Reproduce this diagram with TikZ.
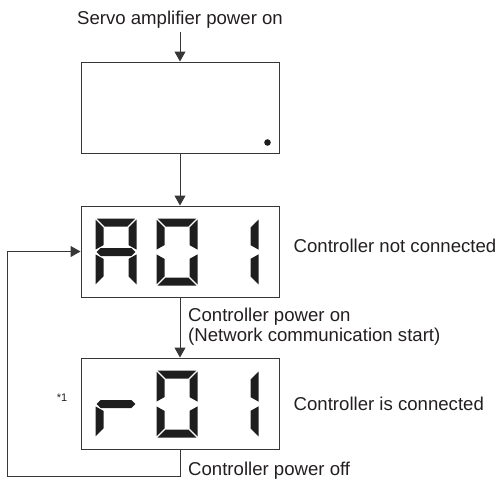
\documentclass[tikz,border=0pt]{standalone}
\usepackage{fontspec}
\setmainfont{Liberation Sans}
\usetikzlibrary{arrows.meta,positioning}
\definecolor{lineGray}{RGB}{55,55,55}
\definecolor{segBlack}{RGB}{30,30,30}
\definecolor{txtBlack}{RGB}{35,31,32}
\tikzset{
  dispbox/.style={rectangle,draw=lineGray,line width=1pt,minimum width=198pt,minimum height=91pt,inner sep=0pt},
  lbl/.style={inner sep=0pt,text=txtBlack,font=\fontsize{18.6}{19.5}\selectfont,align=left},
  notelbl/.style={inner sep=0pt,text=txtBlack,font=\fontsize{11}{12}\selectfont},
  arr/.style={-{Triangle[length=10pt,width=11pt]},line width=1pt,color=lineGray},
  seg/.style={fill=segBlack},
  %% seven segment pieces, local frame 41 x 67, origin bottom left
  sega/.style={insert path={(1.2,67) -- (39.8,67) -- (31.8,59) -- (9.2,59) -- cycle}},
  segd/.style={insert path={(1.2,0) -- (39.8,0) -- (31.8,8) -- (9.2,8) -- cycle}},
  segf/.style={insert path={(0,65.8) -- (8,57.8) -- (8,40.4) -- (0,35.9) -- cycle}},
  sege/.style={insert path={(0,1.2) -- (8,9.2) -- (8,26.6) -- (0,31.1) -- cycle}},
  segb/.style={insert path={(41,65.8) -- (33,57.8) -- (33,40.4) -- (41,35.9) -- cycle}},
  segc/.style={insert path={(41,1.2) -- (33,9.2) -- (33,26.6) -- (41,31.1) -- cycle}},
  segg/.style={insert path={(1.2,33.5) -- (5.2,37.5) -- (35.8,37.5) -- (39.8,33.5) -- (35.8,29.5) -- (5.2,29.5) -- cycle}}
}
%% one digit: #1 = box node, #2 = x offset, #3 = lit segments
\newcommand{\segdigit}[3]{
  \begin{scope}[shift={(#1.south west)},xshift=#2,yshift=12pt,x=1pt,y=1pt]
    \foreach \s in {#3} \fill[seg,seg\s];
  \end{scope}
}

\begin{document}
\begin{tikzpicture}
  \useasboundingbox (0,0) rectangle (499pt,-480pt);

  %% Boxes
  \node[dispbox] (amp) at (180pt,-107.5pt) {};
  \node[dispbox,below=52pt of amp] (a01) {};
  \node[dispbox,below=60pt of a01] (r01) {};

  %% Power on dot
  \fill[seg] ([xshift=-12pt,yshift=11pt]amp.south east) circle (3.3pt);

  %% Displays
  \segdigit{a01}{15pt}{a,b,c,e,f,g}
  \segdigit{a01}{76pt}{a,b,c,d,e,f}
  \segdigit{a01}{137pt}{b,c}
  \segdigit{r01}{15pt}{e,g}
  \segdigit{r01}{76pt}{a,b,c,d,e,f}
  \segdigit{r01}{137pt}{b,c}

  %% Labels
  \node[lbl,above=33pt of amp] (title) {Servo amplifier power on};
  \node[lbl,right=14pt of a01,yshift=6pt] (notconn) {Controller not connected};
  \node[lbl,right=14pt of r01] (isconn) {Controller is connected};
  \node[lbl,anchor=north west] (pwron) at ([xshift=8pt,yshift=-10.5pt]a01.south)
    {Controller power on\\(Network communication start)};
  \node[lbl,anchor=base west] (pwroff) at ([xshift=8pt,yshift=-26pt]r01.south) {Controller power off};
  \node[notelbl,left=13pt of r01,yshift=6pt] (note) {*1};

  %% Arrows
  \draw[arr] ([yshift=-3pt]title.south) -- (amp.north);
  \draw[arr] (amp.south) -- (a01.north);
  \draw[arr] (a01.south) -- (r01.north);
  \draw[arr] (r01.south) -- ++(0,-27pt) -| ([xshift=-73pt]a01.west) -- (a01.west);
\end{tikzpicture}
\end{document}
